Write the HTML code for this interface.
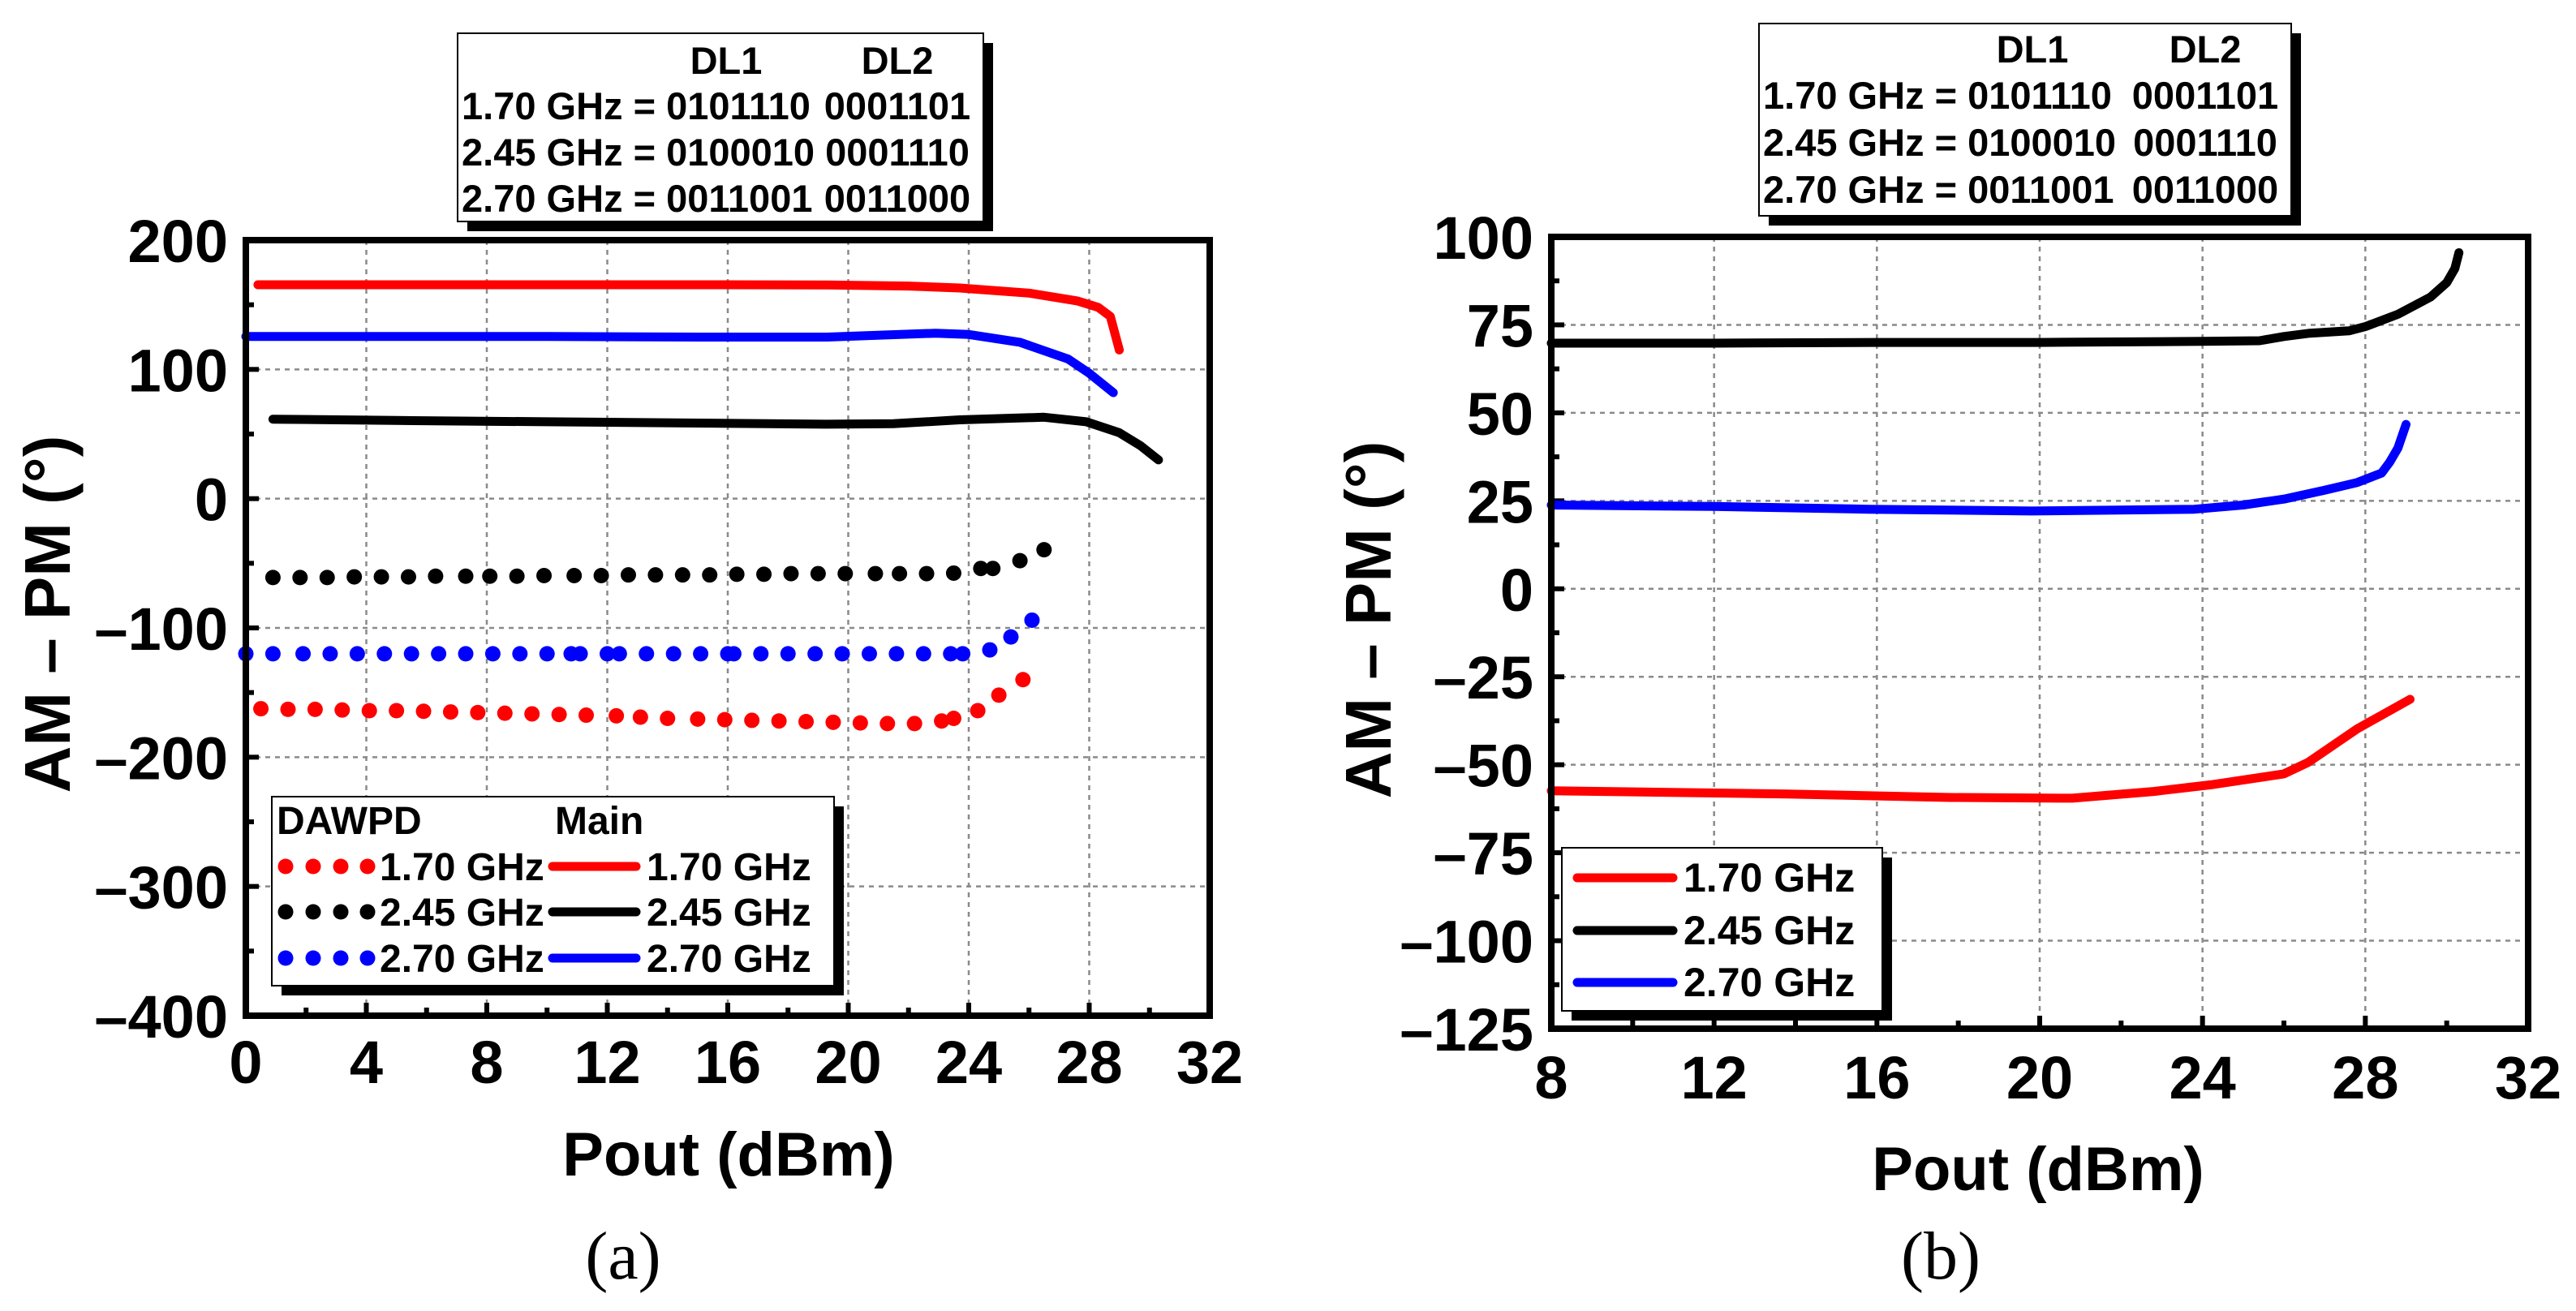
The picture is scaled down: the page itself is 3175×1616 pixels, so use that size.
<!DOCTYPE html>
<html><head><meta charset="utf-8"><style>
html,body{margin:0;padding:0;background:#fff;}
svg{display:block;font-family:"Liberation Sans",sans-serif;}
</style></head><body>
<svg id="root" width="3175" height="1616" viewBox="0 0 3175 1616" xmlns="http://www.w3.org/2000/svg">
<g id="pa"></g>
<g id="pb"></g>
</svg>
<script>
// ---------- Panel (a) data ----------
const aXTicks = [0,4,8,12,16,20,24,28,32];
const aYTicks = [200,100,0,-100,-200,-300,-400];
const aMain17x = [0.4,5,10,15,19.3,22,23.7,26,27.6,28.3,28.7,29];
const aMain17y = [165.5,165.5,165.5,165.5,165.3,164.5,163,159,153,148,141,115];
const aMain245x = [0.9,5,10,15,19.3,21.5,23.7,26.5,27.9,29,29.7,30.3];
const aMain245y = [61.5,60.5,59.5,58.5,57.6,58,61,63,59.5,51,41,30];
const aMain27x = [0,5,10,15,19.3,22.9,24,25.7,27.3,28,28.8];
const aMain27y = [125.5,125.5,125.5,125,125,128,127,121,108,97,82];
const aDot245x = [0.9,1.8,2.7,3.6,4.5,5.4,6.3,7.3,8.1,9.0,9.9,10.9,11.8,12.7,13.6,14.5,15.4,16.3,17.2,18.1,19.0,19.9,20.9,21.7,22.6,23.5,24.4,24.8,25.7,26.5];
const aDot245y = [-61,-61,-61,-60.5,-60.5,-60.5,-60,-60,-60,-60,-59.5,-59.5,-59.5,-59,-59,-59,-59,-58.5,-58.5,-58,-58,-58,-58,-58,-58,-57.6,-54,-54,-48,-39.5];
const aDot27x = [0,0.9,1.9,2.8,3.7,4.6,5.5,6.4,7.3,8.2,9.1,10.0,10.8,11.1,12.0,12.4,13.3,14.2,15.1,16.0,16.2,17.1,18.0,18.9,19.8,20.7,21.6,22.5,23.4,23.8,24.7,25.4,26.1];
const aDot27y = [-120,-120,-120,-120,-120,-120,-120,-120,-120,-120,-120,-120,-120,-120,-120,-120,-120,-120,-120,-120,-120,-120,-120,-120,-120,-120,-120,-120,-120,-120,-117,-107,-94];
const aDot17x = [0.5,1.4,2.3,3.2,4.1,5.0,5.9,6.8,7.7,8.6,9.5,10.4,11.3,12.3,13.1,14.0,15.0,15.9,16.8,17.7,18.6,19.5,20.4,21.3,22.2,23.1,23.5,24.3,25.0,25.8];
const aDot17y = [-162.5,-163,-163,-163.5,-164,-164,-164.5,-165,-165.5,-166,-166.5,-167,-167.5,-168,-169,-170,-170.5,-171,-171.5,-172,-172.5,-173,-173.5,-174,-174,-172,-170,-164,-152,-140];
// ---------- Panel (b) data ----------
const bXTicks = [8,12,16,20,24,28,32];
const bYTicks = [100,75,50,25,0,-25,-50,-75,-100,-125];
const b245x = [8,12,16,20,24,25.4,26,26.6,27.6,28,28.8,29.6,30,30.2,30.3];
const b245y = [69.8,69.8,70,70,70.3,70.5,71.7,72.6,73.3,74.5,78,82.9,87,91,95.5];
const b27x = [8,12,15.8,19.8,23.8,25,26,27,27.8,28.4,28.6,28.8,29];
const b27y = [23.8,23.4,22.6,22.1,22.6,23.8,25.5,28,30.2,32.9,36,40,46.7];
const b17x = [8,13.8,17.8,20.8,22.8,24.2,26,26.6,27.8,29.1];
const b17y = [-57.4,-58.3,-59.3,-59.5,-57.6,-55.7,-52.6,-49.3,-39.8,-31.4];

const NS="http://www.w3.org/2000/svg";
function mk(parent,tag,attrs,text){const e=document.createElementNS(NS,tag);for(const k in attrs)e.setAttribute(k,attrs[k]);if(text!==undefined)e.textContent=text;parent.appendChild(e);return e;}
function lab(v){return v<0?"\u2013"+Math.abs(v):String(v);}

function drawPanel(g,cfg){
  const sx=v=>cfg.x0+(v-cfg.xmin)/(cfg.xmax-cfg.xmin)*(cfg.x1-cfg.x0);
  const sy=v=>cfg.y1-(v-cfg.ymin)/(cfg.ymax-cfg.ymin)*(cfg.y1-cfg.y0);
  cfg.xTicks.forEach(t=>{if(t>cfg.xmin&&t<cfg.xmax){const l=mk(g,'line',{x1:sx(t),x2:sx(t),y1:cfg.y0,y2:cfg.y1,stroke:'#8a8a8a','stroke-width':2.5,'stroke-dasharray':'6 6'});
    
    }});
  cfg.yTicks.forEach(t=>{if(t>cfg.ymin&&t<cfg.ymax){const l=mk(g,'line',{x1:cfg.x0,x2:cfg.x1,y1:sy(t),y2:sy(t),stroke:'#8a8a8a','stroke-width':2.5,'stroke-dasharray':'6 6'});
    
    }});
  for(let i=0;i<cfg.xTicks.length;i++){
    const t=cfg.xTicks[i];
    const tk=mk(g,'line',{x1:sx(t),x2:sx(t),y1:cfg.y1,y2:cfg.y1-16,stroke:'#000','stroke-width':6});
    
    
    if(i<cfg.xTicks.length-1){const m=(t+cfg.xTicks[i+1])/2;
      const mt=mk(g,'line',{x1:sx(m),x2:sx(m),y1:cfg.y1,y2:cfg.y1-10,stroke:'#000','stroke-width':6});
      
      }
    const tl=mk(g,'text',{x:sx(t),y:cfg.xLabY,'text-anchor':'middle','font-size':74,'font-weight':'bold'},lab(t));
    
    
  }
  for(let i=0;i<cfg.yTicks.length;i++){
    const t=cfg.yTicks[i];
    const tk=mk(g,'line',{x1:cfg.x0,x2:cfg.x0+16,y1:sy(t),y2:sy(t),stroke:'#000','stroke-width':6});
    
    
    if(i<cfg.yTicks.length-1){const m=(t+cfg.yTicks[i+1])/2;
      const mt=mk(g,'line',{x1:cfg.x0,x2:cfg.x0+10,y1:sy(m),y2:sy(m),stroke:'#000','stroke-width':6});
      
      }
    const tl=mk(g,'text',{x:cfg.yLabX,y:sy(t)+27,'text-anchor':'end','font-size':74,'font-weight':'bold'},lab(t));
    
    
  }
  cfg.lines.forEach(s=>{
    const d=s.x.map((v,i)=>(i?'L':'M')+sx(v).toFixed(1)+' '+sy(s.y[i]).toFixed(1)).join(' ');
    const p=mk(g,'path',{d:d,fill:'none',stroke:s.c,'stroke-width':11,'stroke-linecap':'round','stroke-linejoin':'round'});
    
    
  });
  (cfg.dots||[]).forEach(s=>{
    s.x.forEach((v,i)=>{
      const c=mk(g,'circle',{cx:sx(v),cy:sy(s.y[i]),r:9.5,fill:s.c});
      
      
    });
  });
  const fr=mk(g,'rect',{x:cfg.x0,y:cfg.y0,width:cfg.x1-cfg.x0,height:cfg.y1-cfg.y0,fill:'none',stroke:'#000','stroke-width':8});
  
  
}

function infoBox(g,x,y,w,h,c1,c2,rows){
  const bg=mk(g,'g',{});
  
  
  mk(bg,'rect',{x:x+12,y:y+12,width:w,height:h,fill:'#000'});
  mk(bg,'rect',{x:x,y:y,width:w,height:h,fill:'#fff',stroke:'#000','stroke-width':2});
  mk(bg,'text',{x:c1,y:rows[0],'text-anchor':'middle','font-size':47,'font-weight':'bold'},'DL1');
  mk(bg,'text',{x:c2,y:rows[0],'text-anchor':'middle','font-size':47,'font-weight':'bold'},'DL2');
  const L=[['1.70 GHz = 0101110','0001101'],['2.45 GHz = 0100010','0001110'],['2.70 GHz = 0011001','0011000']];
  L.forEach((r,i)=>{
    mk(bg,'text',{x:x+5,y:rows[i+1],'font-size':47,'font-weight':'bold'},r[0]);
    mk(bg,'text',{x:c2,y:rows[i+1],'text-anchor':'middle','font-size':47,'font-weight':'bold'},r[1]);
  });
}

// ---- Panel a ----
const pa=document.getElementById('pa');
drawPanel(pa,{x0:303,x1:1491,y0:296,y1:1252,xmin:0,xmax:32,ymin:-400,ymax:200,xTicks:aXTicks,yTicks:aYTicks,xLabY:1335,yLabX:281,
  lines:[{x:aMain17x,y:aMain17y,c:'#ff0000',name:'main-1.70ghz-line'},{x:aMain27x,y:aMain27y,c:'#0000ff',name:'main-2.70ghz-line'},{x:aMain245x,y:aMain245y,c:'#000000',name:'main-2.45ghz-line'}],
  dots:[{x:aDot245x,y:aDot245y,c:'#000',name:'dawpd-2.45ghz-point'},{x:aDot27x,y:aDot27y,c:'#0000ff',name:'dawpd-2.70ghz-point'},{x:aDot17x,y:aDot17y,c:'#ff0000',name:'dawpd-1.70ghz-point'}]});
infoBox(pa,564,41,648,232,895,1106,[91,147,204,261]);
(function(){
  const g=mk(pa,'g',{});
  
  
  mk(g,'rect',{x:347,y:994,width:693,height:233,fill:'#000'});
  mk(g,'rect',{x:335,y:982,width:693,height:233,fill:'#fff',stroke:'#000','stroke-width':2});
  mk(g,'text',{x:341,y:1028,'font-size':48,'font-weight':'bold'},'DAWPD');
  mk(g,'text',{x:684,y:1028,'font-size':48,'font-weight':'bold'},'Main');
  const cols=['#ff0000','#000','#0000ff'],labs=['1.70 GHz','2.45 GHz','2.70 GHz'],ys=[1085,1141,1198];
  ys.forEach((y,i)=>{
    [352,386,420,453].forEach(cx=>mk(g,'circle',{cx:cx,cy:y-17,r:9.5,fill:cols[i]}));
    mk(g,'text',{x:468,y:y,'font-size':48,'font-weight':'bold'},labs[i]);
    mk(g,'line',{x1:681,x2:784,y1:y-17,y2:y-17,stroke:cols[i],'stroke-width':11,'stroke-linecap':'round'});
    mk(g,'text',{x:797,y:y,'font-size':48,'font-weight':'bold'},labs[i]);
  });
})();
mk(pa,'text',{x:898,y:1449,'text-anchor':'middle','font-size':76,'font-weight':'bold',},'Pout (dBm)');
mk(pa,'text',{x:0,y:0,transform:'translate(86,757) rotate(-90)','text-anchor':'middle','font-size':80,'font-weight':'bold',},'AM \u2013 PM (\u00b0)');
mk(pa,'text',{x:768,y:1576,'text-anchor':'middle','font-size':84,'font-family':'Liberation Serif, serif',},'(a)');

// ---- Panel b ----
const pb=document.getElementById('pb');
drawPanel(pb,{x0:1912,x1:3116,y0:292,y1:1268,xmin:8,xmax:32,ymin:-125,ymax:100,xTicks:bXTicks,yTicks:bYTicks,xLabY:1354,yLabX:1890,
  lines:[{x:b17x,y:b17y,c:'#ff0000',name:'1.70ghz-line'},{x:b27x,y:b27y,c:'#0000ff',name:'2.70ghz-line'},{x:b245x,y:b245y,c:'#000',name:'2.45ghz-line'}]});
infoBox(pb,2168,29,656,237,2505,2718,[77,134,192,250]);
(function(){
  const g=mk(pb,'g',{});
  
  
  mk(g,'rect',{x:1937,y:1057,width:395,height:201,fill:'#000'});
  mk(g,'rect',{x:1925,y:1045,width:395,height:201,fill:'#fff',stroke:'#000','stroke-width':2});
  const cols=['#ff0000','#000','#0000ff'],labs=['1.70 GHz','2.45 GHz','2.70 GHz'],ys=[1099,1164,1228];
  ys.forEach((y,i)=>{
    mk(g,'line',{x1:1944,x2:2062,y1:y-17,y2:y-17,stroke:cols[i],'stroke-width':11,'stroke-linecap':'round'});
    mk(g,'text',{x:2075,y:y,'font-size':50,'font-weight':'bold'},labs[i]);
  });
})();
mk(pb,'text',{x:2512,y:1467,'text-anchor':'middle','font-size':76,'font-weight':'bold',},'Pout (dBm)');
mk(pb,'text',{x:0,y:0,transform:'translate(1714,764) rotate(-90)','text-anchor':'middle','font-size':80,'font-weight':'bold',},'AM \u2013 PM (\u00b0)');
mk(pb,'text',{x:2392,y:1576,'text-anchor':'middle','font-size':84,'font-family':'Liberation Serif, serif',},'(b)');
</script>
</body></html>
